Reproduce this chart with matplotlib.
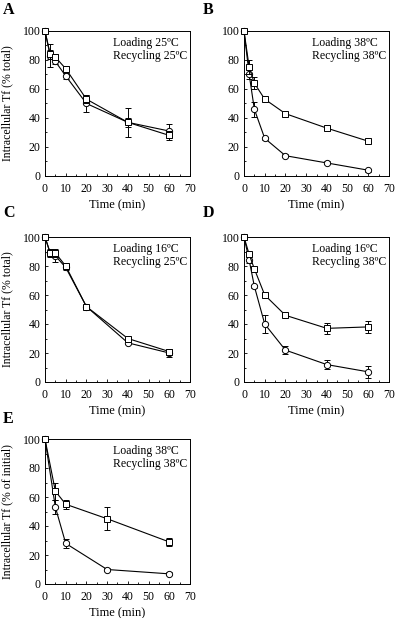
import matplotlib
matplotlib.use("Agg")
import matplotlib.pyplot as plt
from matplotlib.ticker import MultipleLocator

plt.rcParams['font.family'] = ['Liberation Serif', 'DejaVu Serif']

# Panel A
time_a = [0, 2.5, 5, 10, 20, 40, 60]
sq_a = [100, 84, 82, 74, 53, 37, 28]
sq_a_err = [0, 3, 2, 2, 3, 3, 3]
ci_a = [100, 83, 79, 69, 50, 37, 31]
ci_a_err = [0, 8, 2, 2, 6, 10, 5]

# Panel B
time_b = [0, 2.5, 5, 10, 20, 40, 60]
sq_b = [100, 75, 64, 53, 43, 33, 24]
sq_b_err = [0, 5, 4, 1, 1, 1, 1]
ci_b = [100, 70, 46, 26, 14, 9, 4]
ci_b_err = [0, 3, 5, 1, 1, 1, 1]

# Panel C
time_c = [0, 2.5, 5, 10, 20, 40, 60]
sq_c = [100, 89, 89, 80, 52, 30, 21]
sq_c_err = [0, 2, 3, 1, 1, 1, 2]
ci_c = [100, 89, 87, 79, 52, 27, 20]
ci_c_err = [0, 3, 4, 2, 1, 1, 3]

# Panel D
time_d = [0, 2.5, 5, 10, 20, 40, 60]
sq_d = [100, 88, 78, 60, 46, 37, 38]
sq_d_err = [0, 1, 1, 1, 1, 4, 4]
ci_d = [100, 84, 66, 40, 22, 12, 7]
ci_d_err = [0, 2, 1, 6, 3, 3, 4]

# Panel E
time_e = [0, 5, 10, 30, 60]
sq_e = [100, 64, 55, 45, 29]
sq_e_err = [0, 6, 3, 8, 3]
ci_e = [100, 53, 28, 10, 7]
ci_e_err = [0, 5, 3, 1, 1]

panels = [
    ("A", time_a, sq_a, sq_a_err, ci_a, ci_a_err, "Loading 25ºC\nRecycling 25ºC", "Intracellular Tf (% total)"),
    ("B", time_b, sq_b, sq_b_err, ci_b, ci_b_err, "Loading 38ºC\nRecycling 38ºC", None),
    ("C", time_c, sq_c, sq_c_err, ci_c, ci_c_err, "Loading 16ºC\nRecycling 25ºC", "Intracellular Tf (% total)"),
    ("D", time_d, sq_d, sq_d_err, ci_d, ci_d_err, "Loading 16ºC\nRecycling 38ºC", None),
    ("E", time_e, sq_e, sq_e_err, ci_e, ci_e_err, "Loading 38ºC\nRecycling 38ºC", "Intracellular Tf (% of initial)"),
]

W, H = 400, 618
fig = plt.figure(figsize=(4.0, 6.18), dpi=100)

# pixel boxes (left, top) for each panel
boxes = {"A": (45, 31), "B": (244, 31), "C": (45, 237), "D": (244, 237), "E": (45, 439)}
aw, ah = 145, 145
letter_pos = {"A": (3, 10), "B": (203, 10), "C": (3, 213), "D": (203, 213), "E": (3, 419)}

for letter, t, sq, sqe, ci, cie, legend, ylabel in panels:
    l, top = boxes[letter]
    ax = fig.add_axes([l / W, 1 - (top + ah) / H, aw / W, ah / H])
    ax.errorbar(t, ci, yerr=cie, color='black', lw=0.8, marker='o', ms=4.5,
                mfc='white', mec='black', mew=0.7, capsize=2, elinewidth=0.7,
                capthick=0.7, clip_on=False, zorder=3)
    ax.errorbar(t, sq, yerr=sqe, color='black', lw=0.8, marker='s', ms=4.5,
                mfc='white', mec='black', mew=0.7, capsize=2, elinewidth=0.7,
                capthick=0.7, clip_on=False, zorder=4)
    ax.set_xlim(0, 70)
    ax.set_ylim(0, 100)
    ax.xaxis.set_major_locator(MultipleLocator(10))
    ax.xaxis.set_minor_locator(MultipleLocator(5))
    ax.yaxis.set_major_locator(MultipleLocator(20))
    ax.yaxis.set_minor_locator(MultipleLocator(10))
    ax.tick_params(which='both', direction='in', labelsize=8.5, width=0.6)
    ax.tick_params(axis='x', pad=5)
    ax.tick_params(axis='y', pad=3)
    ax.tick_params(which='major', length=2.5)
    ax.tick_params(which='minor', length=1.5)
    for s in ax.spines.values():
        s.set_linewidth(0.7)
    ax.set_xlabel("Time (min)", fontsize=9, labelpad=3)
    if ylabel:
        ax.set_ylabel(ylabel, fontsize=8.5, labelpad=7)
    ax.text(0.469, 0.96, legend, transform=ax.transAxes, ha='left', va='top',
            fontsize=8.5, linespacing=1.15)
    lx, ly = letter_pos[letter]
    fig.text(lx / W, 1 - ly / H, letter, fontsize=11.5, fontweight='bold',
             ha='left', va='center')

fig.savefig("out.png", dpi=100)
